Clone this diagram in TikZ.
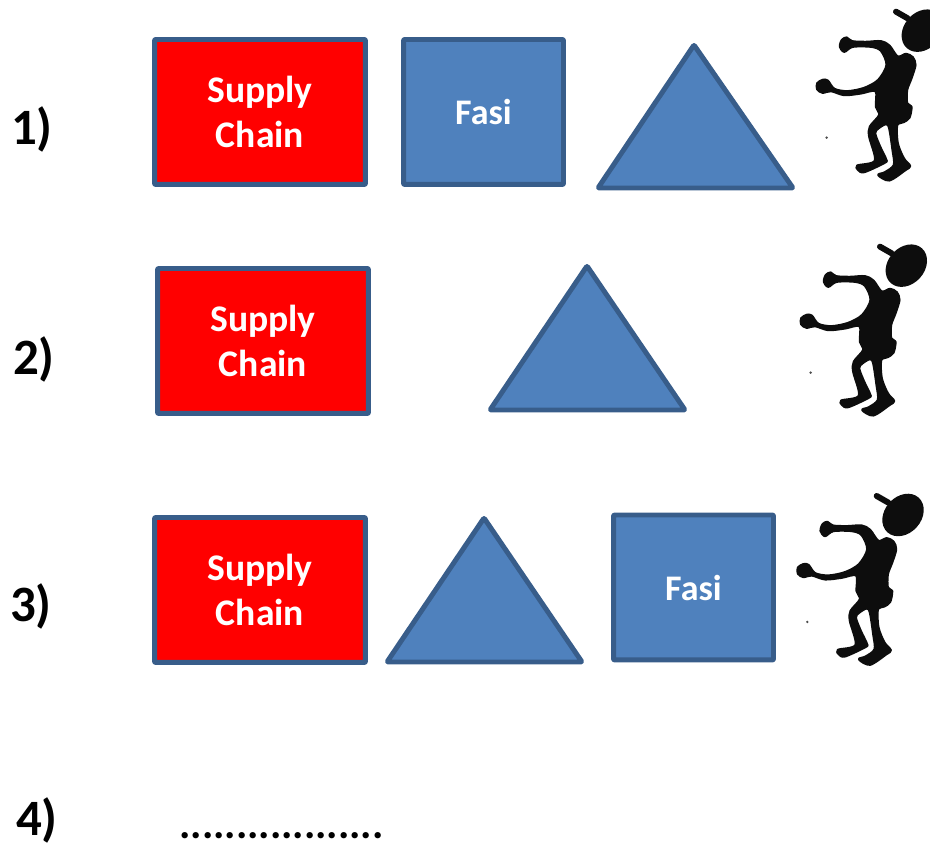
\documentclass[tikz,border=0pt]{standalone}
\usepackage{fontspec}
\setmainfont{Carlito}
\usepackage{xcolor}
\definecolor{fasiblue}{HTML}{4F81BD}
\definecolor{edgeblue}{HTML}{385D8A}
\tikzset{
  shapeline/.style={draw=edgeblue,line width=2.83pt,line join=round,rounded corners=0.5pt},
  chainbox/.style={shapeline,fill=red,text=white,minimum width=4.22cm,minimum height=2.9cm,
    align=center,font=\fontsize{21.4}{25.5}\selectfont\bfseries,inner sep=0pt},
  fasibox/.style={shapeline,fill=fasiblue,text=white,minimum width=3.2cm,minimum height=2.9cm,
    font=\fontsize{20.5}{25}\selectfont\bfseries,inner sep=0pt},
  triangle/.style={shapeline,fill=fasiblue},
  rowlabel/.style={font=\fontsize{29}{33}\selectfont\bfseries,inner sep=0pt},
  dotline/.style={font=\fontsize{24.2}{30}\selectfont\bfseries,inner sep=0pt},
  walker/.pic={
    \begin{scope}[x=0.00667cm,y=-0.00667cm]
      % head and hat
      \fill[black!95,shift={(349,92)},rotate=48] (0,0) ellipse [x radius=70,y radius=55];
      \draw[black!95,line width=3.4pt,line cap=round] (270,35) -- (305,55);
      % body
      \filldraw[black!95,line width=1.4pt,line join=round] plot[smooth cycle,tension=0.5] coordinates {(102,140) (108,120) (122,113) (138,124) (180,126) (225,124) (250,137) (275,170) (300,162) (320,172) (328,195) (316,235) (303,270) (303,310) (316,320) (310,353) (293,366) (273,376) (275,430) (293,475) (312,498) (298,510) (250,541) (217,525) (237,517) (264,495) (260,450) (250,385) (240,372) (217,385) (207,400) (222,440) (240,478) (236,488) (175,516) (157,510) (154,497) (207,482) (190,410) (192,380) (220,345) (210,320) (209,273) (165,280) (115,285) (75,273) (50,278) (34,268) (34,250) (50,240) (65,242) (85,267) (125,274) (175,264) (217,240) (242,195) (225,152) (195,140) (140,140) (115,155)};
      \fill[black!70] (62,413) circle (4);
    \end{scope}
  }
}
\begin{document}
\begin{tikzpicture}[x=0.02cm,y=-0.02cm]
  \useasboundingbox (0,0) rectangle (930,847);
  % row 1
  \node[rowlabel] (one) at (32,129) {1)};
  \node[chainbox] (chain1) at (260,112) {Supply\\Chain};
  \node[fasibox] (fasi1) at (483.5,112) {Fasi};
  \draw[triangle] (694,45) -- (793,188) -- (598,188) -- cycle;
  \pic at (806,0) {walker};
  % row 2
  \node[rowlabel] (two) at (34,359) {2)};
  \node[chainbox] (chain2) at (263,341) {Supply\\Chain};
  \draw[triangle] (587,266) -- (685,410) -- (490,410) -- cycle;
  \pic at (790,235) {walker};
  % row 3
  \node[rowlabel] (three) at (31,606) {3)};
  \node[chainbox] (chain3) at (260,590) {Supply\\Chain};
  \draw[triangle] (484,518) -- (582,662) -- (387,662) -- cycle;
  \node[fasibox] (fasi3) at (693.5,587.5) {Fasi};
  \pic at (786.7,484.3) {walker};
  % row 4
  \node[rowlabel] (four) at (37,820) {4)};
  \node[dotline,anchor=base west] (dots) at (179,838) {..................};
\end{tikzpicture}
\end{document}
